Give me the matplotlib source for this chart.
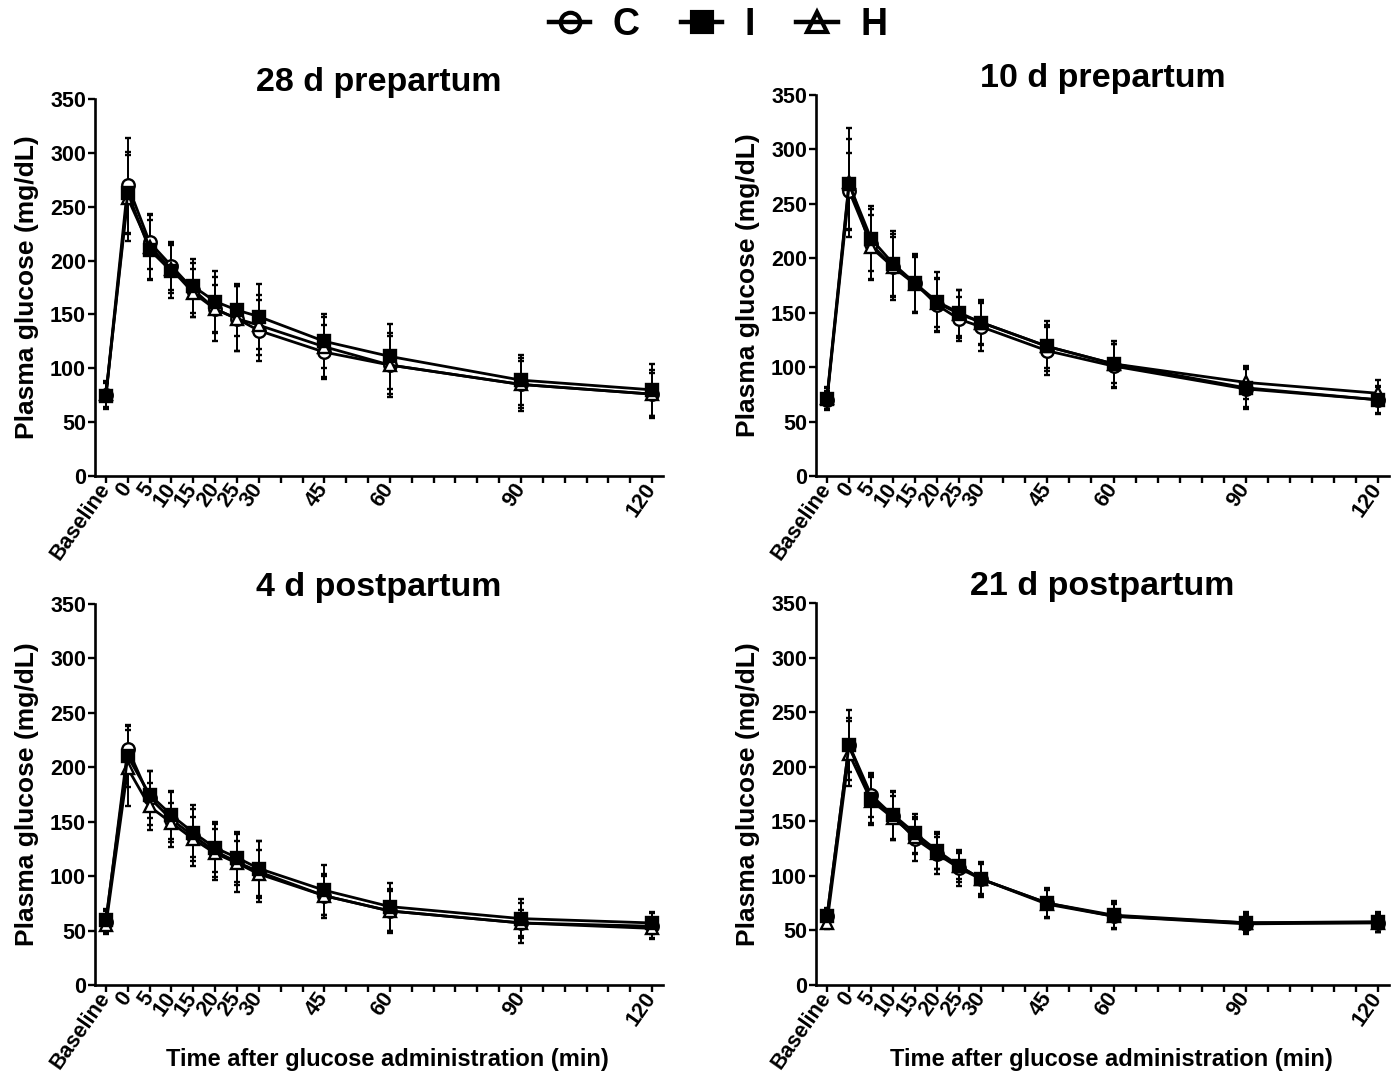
import matplotlib.pyplot as plt
from matplotlib.lines import Line2D

plt.rcParams["font.family"] = ["Liberation Sans", "DejaVu Sans"]
plt.rcParams["font.weight"] = "bold"

# x positions: Baseline is drawn at -5 min
times = [-5, 0, 5, 10, 15, 20, 25, 30, 45, 60, 90, 120]
tick_pos = list(range(-5, 121, 5))
labelled = {-5: "Baseline", 0: "0", 5: "5", 10: "10", 15: "15", 20: "20",
            25: "25", 30: "30", 45: "45", 60: "60", 90: "90", 120: "120"}

titles = ["28 d prepartum", "10 d prepartum", "4 d postpartum", "21 d postpartum"]

# mean plasma glucose (mg/dL) per group
c_28pre = [75, 270, 217, 195, 173, 155, 146, 135, 115, 103, 85, 76]
i_28pre = [74, 263, 210, 190, 176, 162, 154, 148, 125, 111, 89, 80]
h_28pre = [76, 258, 213, 192, 170, 155, 146, 140, 120, 103, 85, 76]

c_10pre = [70, 262, 213, 192, 177, 157, 144, 137, 115, 101, 80, 70]
i_10pre = [71, 268, 218, 195, 177, 160, 150, 141, 119, 103, 81, 70]
h_10pre = [72, 270, 210, 192, 176, 159, 149, 141, 119, 103, 86, 76]

c_4post = [58, 217, 172, 152, 137, 123, 113, 104, 82, 68, 57, 54]
i_4post = [60, 210, 175, 156, 140, 126, 117, 107, 87, 72, 61, 57]
h_4post = [55, 199, 164, 149, 134, 121, 112, 102, 82, 68, 57, 52]

c_21post = [63, 220, 174, 155, 134, 120, 107, 97, 75, 63, 56, 57]
i_21post = [63, 220, 170, 156, 139, 123, 109, 97, 75, 64, 57, 58]
h_21post = [57, 212, 169, 153, 136, 121, 109, 97, 74, 63, 57, 57]

# standard deviations
c_28pre_sd = [12, 44, 25, 22, 25, 30, 30, 28, 25, 30, 25, 22]
i_28pre_sd = [12, 38, 28, 25, 25, 28, 24, 30, 25, 30, 23, 24]
h_28pre_sd = [12, 40, 30, 22, 22, 22, 30, 28, 28, 27, 22, 20]

c_10pre_sd = [8, 35, 32, 30, 27, 25, 20, 22, 22, 20, 18, 13]
i_10pre_sd = [10, 42, 30, 30, 26, 27, 21, 20, 23, 21, 18, 12]
h_10pre_sd = [10, 50, 30, 28, 25, 22, 22, 21, 20, 18, 15, 12]

c_4post_sd = [10, 22, 25, 25, 28, 27, 28, 28, 20, 20, 18, 12]
i_4post_sd = [10, 28, 22, 22, 22, 22, 22, 25, 23, 22, 18, 10]
h_4post_sd = [8, 35, 22, 18, 20, 22, 20, 22, 18, 18, 12, 9]

c_21post_sd = [8, 32, 20, 22, 20, 18, 16, 15, 14, 12, 8, 8]
i_21post_sd = [6, 25, 22, 22, 18, 17, 15, 16, 13, 13, 10, 9]
h_21post_sd = [6, 30, 22, 20, 16, 15, 12, 14, 13, 11, 8, 8]

panels = [
    (c_28pre, i_28pre, h_28pre, c_28pre_sd, i_28pre_sd, h_28pre_sd),
    (c_10pre, i_10pre, h_10pre, c_10pre_sd, i_10pre_sd, h_10pre_sd),
    (c_4post, i_4post, h_4post, c_4post_sd, i_4post_sd, h_4post_sd),
    (c_21post, i_21post, h_21post, c_21post_sd, i_21post_sd, h_21post_sd),
]

W, H = 1397, 1072
fig = plt.figure(figsize=(W / 100, H / 100), dpi=100)

# axes boxes in pixels: left, top, width, height
boxes = [(95, 99, 568, 377), (816, 95, 573, 381),
         (95, 604, 568, 381), (816, 603, 573, 382)]

styles = {
    "C": dict(marker="o", mfc="white"),
    "I": dict(marker="s", mfc="black"),
    "H": dict(marker="^", mfc="white"),
}

for k, (box, title, data) in enumerate(zip(boxes, titles, panels)):
    l, t, w, h = box
    ax = fig.add_axes([l / W, 1 - (t + h) / H, w / W, h / H])
    c, i, hh, csd, isd, hsd = data
    for name, y, sd in [("C", c, csd), ("H", hh, hsd), ("I", i, isd)]:
        ax.errorbar(times, y, yerr=sd, color="black", lw=2, ms=9, mew=1.7,
                    mec="black", elinewidth=1.4, capsize=2.5, capthick=1.4,
                    **styles[name])
    ax.set_xlim(-7.5, 122.5)
    ax.set_ylim(0, 350)
    ax.set_yticks(range(0, 351, 50))
    ax.set_xticks(tick_pos)
    ax.set_xticklabels([labelled.get(p, "") for p in tick_pos], rotation=55,
                       ha="right", va="center", rotation_mode="anchor",
                       fontsize=14)
    for s in ["top", "right"]:
        ax.spines[s].set_visible(False)
    for s in ["left", "bottom"]:
        ax.spines[s].set_linewidth(1.9)
    ax.tick_params(axis="both", direction="out", length=5, width=1.7,
                   labelsize=15.5, pad=1.5)
    ax.set_title(title, fontsize=24.5, fontweight="bold", pad=6)
    ax.set_ylabel("Plasma glucose (mg/dL)", fontsize=19, fontweight="bold",
                  labelpad=8)
    if k >= 2:
        ax.set_xlabel("Time after glucose administration (min)", fontsize=17,
                      fontweight="bold")
        ax.xaxis.set_label_coords(0.515, -0.165)

handles = [Line2D([], [], color="black", lw=3.2, marker=styles[n]["marker"],
                  mfc="none" if n != "I" else "black", mec="black", mew=3, ms=14)
           for n in ["C", "I", "H"]]
fig.legend(handles, ["C", "I", "H"], loc="center", bbox_to_anchor=(0.514, 0.977),
           ncol=3, frameon=False, prop=dict(size=27, weight="bold"),
           handlelength=1.1, handletextpad=0.6, columnspacing=1.1)

fig.savefig("out.png", dpi=100)
